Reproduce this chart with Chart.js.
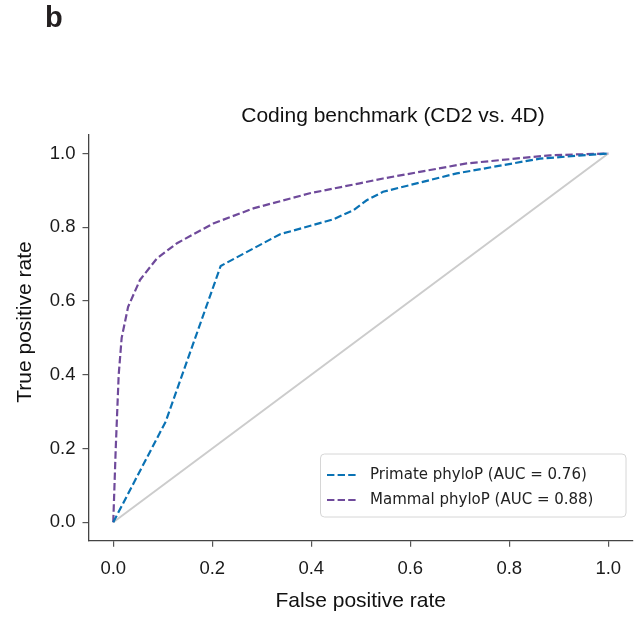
<!DOCTYPE html>
<html>
<head>
<meta charset="utf-8">
<script src="https://cdn.jsdelivr.net/npm/chart.js@4.4.1/dist/chart.umd.min.js"></script>
<style>
  body { margin: 0; background: #fff; }
  #wrap { width: 641px; height: 619px; }
</style>
</head>
<body>
<div id="wrap"><canvas id="roc" width="641" height="619"></canvas></div>
<script>
// values
const panelLabel = 'b';
const chartTitle = 'Coding benchmark (CD2 vs. 4D)';
const xLabel = 'False positive rate';
const yLabel = 'True positive rate';

const tickValues = [0, 0.2, 0.4, 0.6, 0.8, 1.0];

const primateFpr = [0, 0.106, 0.217, 0.337, 0.444, 0.485, 0.512, 0.545, 0.694, 0.862, 1.0];
const primateTpr = [0, 0.273, 0.695, 0.781, 0.821, 0.846, 0.873, 0.896, 0.946, 0.986, 1.0];

const mammalFpr = [0, 0.005, 0.011, 0.017, 0.030, 0.054, 0.088, 0.128, 0.202, 0.283, 0.397, 0.498, 0.545, 0.714, 0.882, 1.0];
const mammalTpr = [0, 0.20, 0.40, 0.50, 0.584, 0.657, 0.715, 0.756, 0.810, 0.851, 0.892, 0.919, 0.932, 0.973, 0.995, 1.0];

const chanceX = [0, 1];
const chanceY = [0, 1];

const FONT = '"Liberation Sans", Arial, Helvetica, sans-serif';

function toPoints(xs, ys) {
    return xs.map((x, i) => ({ x: x, y: ys[i] }));
}

// panel letter, title, y label and the in-plot legend box
const overlay = {
    id: 'overlay',
    afterDraw(chart) {
        const ctx = chart.ctx;
        ctx.save();
        ctx.fillStyle = '#231f20';
        ctx.textBaseline = 'alphabetic';
        ctx.textAlign = 'left';
        ctx.font = 'bold 29px ' + FONT;
        ctx.fillText(panelLabel, 45, 27);

        ctx.fillStyle = '#111';
        ctx.textAlign = 'center';
        ctx.font = '21px ' + FONT;
        ctx.fillText(chartTitle, 393, 122);

        ctx.translate(31, 322);
        ctx.rotate(-Math.PI / 2);
        ctx.fillText(yLabel, 0, 0);
        ctx.restore();

        // legend
        const box = { x: 320.5, y: 454, w: 305.5, h: 63 };
        ctx.save();
        ctx.beginPath();
        ctx.roundRect(box.x, box.y, box.w, box.h, 4);
        ctx.fillStyle = 'rgba(255,255,255,0.85)';
        ctx.fill();
        ctx.strokeStyle = '#d6d6d6';
        ctx.lineWidth = 1;
        ctx.stroke();

        const entries = chart.data.datasets.filter(d => d.inLegend);
        entries.forEach((d, i) => {
            const y = 475 + i * 25;
            ctx.beginPath();
            ctx.setLineDash(d.borderDash);
            ctx.strokeStyle = d.borderColor;
            ctx.lineWidth = d.borderWidth;
            ctx.moveTo(327, y);
            ctx.lineTo(358, y);
            ctx.stroke();
            ctx.setLineDash([]);
            ctx.fillStyle = '#222';
            ctx.font = '15px "DejaVu Sans", sans-serif';
            ctx.textAlign = 'left';
            ctx.textBaseline = 'middle';
            ctx.fillText(d.label, 370, y);
        });
        ctx.restore();
    }
};

const ctx = document.getElementById('roc').getContext('2d');

new Chart(ctx, {
    type: 'line',
    data: {
        datasets: [
            {
                label: 'Primate phyloP (AUC = 0.76)',
                data: toPoints(primateFpr, primateTpr),
                borderColor: '#0a72b4',
                borderWidth: 2.2,
                borderDash: [7.4, 3.2],
                inLegend: true
            },
            {
                label: 'Mammal phyloP (AUC = 0.88)',
                data: toPoints(mammalFpr, mammalTpr),
                borderColor: '#6f4a9b',
                borderWidth: 2.2,
                borderDash: [7.4, 3.2],
                inLegend: true
            },
            {
                label: 'chance',
                data: toPoints(chanceX, chanceY),
                borderColor: '#cccccc',
                borderWidth: 2,
                borderDash: [],
                inLegend: false
            }
        ]
    },
    options: {
        responsive: false,
        animation: false,
        parsing: false,
        elements: {
            line: { tension: 0, fill: false },
            point: { radius: 0, hoverRadius: 0 }
        },
        layout: {
            padding: { top: 135, right: 8, bottom: 0, left: 0 }
        },
        scales: {
            x: {
                type: 'linear',
                min: -0.05,
                max: 1.05,
                afterBuildTicks: (scale) => {
                    scale.ticks = tickValues.map(v => ({ value: v }));
                },
                afterFit: (scale) => { scale.height = 78.3; },
                ticks: {
                    padding: 11,
                    color: '#1a1a1a',
                    font: { family: FONT, size: 18.5 },
                    maxRotation: 0,
                    callback: (v) => v.toFixed(1)
                },
                grid: {
                    drawOnChartArea: false,
                    drawTicks: true,
                    tickLength: 6,
                    color: '#555',
                    lineWidth: 1.2
                },
                border: { display: true, color: '#444', width: 1.3 },
                title: {
                    display: true,
                    text: xLabel,
                    color: '#111',
                    font: { family: FONT, size: 21 },
                    padding: { top: 0, bottom: 5 }
                }
            },
            y: {
                type: 'linear',
                min: -0.05,
                max: 1.05,
                afterBuildTicks: (scale) => {
                    scale.ticks = tickValues.map(v => ({ value: v }));
                },
                afterFit: (scale) => { scale.width = 88.5; },
                ticks: {
                    padding: 7,
                    color: '#1a1a1a',
                    font: { family: FONT, size: 18.5 },
                    callback: (v) => v.toFixed(1)
                },
                grid: {
                    drawOnChartArea: false,
                    drawTicks: true,
                    tickLength: 6,
                    color: '#555',
                    lineWidth: 1.2
                },
                border: { display: true, color: '#444', width: 1.3 }
            }
        },
        plugins: {
            legend: { display: false },
            tooltip: { enabled: false },
            title: { display: false }
        }
    },
    plugins: [overlay]
});
</script>
</body>
</html>
